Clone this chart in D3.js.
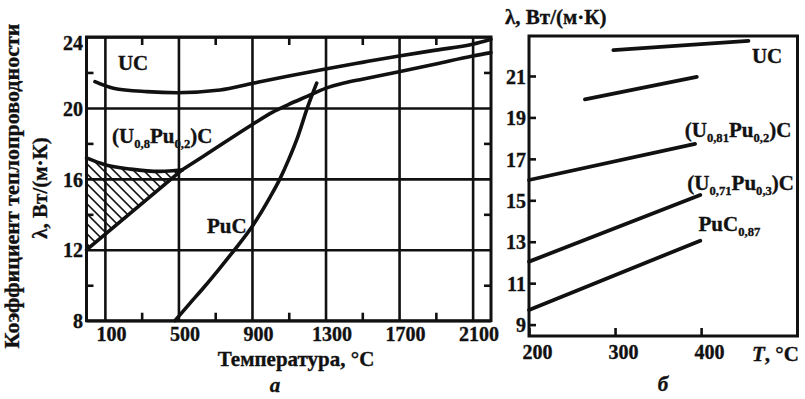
<!DOCTYPE html>
<html>
<head>
<meta charset="utf-8">
<script src="https://cdn.jsdelivr.net/npm/d3@7"></script>
<style>
  html, body { margin: 0; padding: 0; background: #fff; }
  svg { display: block; }
  text { font-family: "Liberation Serif", "Times New Roman", serif; fill: #111; stroke: #111; stroke-width: 0.35px; }
</style>
</head>
<body>
<svg id="chart" width="805" height="399"></svg>
<script>
// ---------- Panel a: thermal conductivity vs temperature (0–2200 °C) ----------
const tempTicksA = [100, 500, 900, 1300, 1700, 2100];
const tempMinorA = [300, 700, 1100, 1500, 1900];
const lambdaTicksA = [8, 12, 16, 20, 24];
const lambdaMinorA = [10, 14, 18, 22];

// UC
const ucTempA   = [46, 146, 328, 491, 727, 905, 1100, 1300, 1500, 1700, 1900, 2100, 2200];
const ucLambdaA = [21.48, 21.11, 20.92, 20.86, 21.01, 21.39, 21.8, 22.2, 22.57, 22.93, 23.26, 23.59, 23.87];

// (U0.8Pu0.2)C — upper bound of the scatter band
const upcUpperTemp   = [0, 100, 240, 400, 520];
const upcUpperLambda = [17.18, 16.8, 16.55, 16.42, 16.5];

// (U0.8Pu0.2)C — lower bound, continuing into the high-temperature curve
const upcTemp   = [0, 520, 640, 900, 1010, 1100, 1200, 1300, 1400, 1500, 1700, 1900, 2100, 2200];
const upcLambda = [12.0, 16.5, 17.3, 19.05, 19.75, 20.2, 20.65, 21.1, 21.4, 21.62, 22.04, 22.48, 22.93, 23.12];

// PuC
const pucTempA   = [481, 560, 640, 720, 805, 900, 1000, 1052, 1100, 1150, 1201, 1252];
const pucLambdaA = [8.0, 8.95, 9.9, 10.9, 12.0, 13.3, 15.0, 16.0, 17.1, 18.4, 20.0, 21.4];

// ---------- Panel б: 200–500 °C ----------
const tempTicksB = [200, 300, 400];
const lambdaTicksB = [9, 11, 13, 15, 17, 19, 21];

const ucTempB    = [298, 455];   const ucLambdaB    = [22.25, 22.69];
const uc2TempB   = [265, 395];   const uc2LambdaB   = [19.87, 20.96];
const u81TempB   = [200, 393];   const u81LambdaB   = [15.98, 17.72];
const u71TempB   = [200, 399];   const u71LambdaB   = [12.04, 15.26];
const puc87TempB = [200, 399];   const puc87LambdaB = [9.71, 13.05];

const zip = (xs, ys) => xs.map((x, i) => [x, ys[i]]);

const svg = d3.select("#chart");
svg.append("rect").attr("width", 805).attr("height", 399).attr("fill", "#fff");

const INK = "#111";
const FONT = 20;
const plain = d => String(d);

// ---------- Panel a ----------
const A = { left: 86.5, right: 491, top: 37, bottom: 320.7 };
const xA = d3.scaleLinear().domain([0, 2200]).range([A.left, A.right]);
const yA = d3.scaleLinear().domain([8, 24]).range([A.bottom, A.top]);

const gA = svg.append("g");

function styleAxis(g) {
  g.attr("font-family", null).attr("font-size", null);
  g.select(".domain").remove();
  g.selectAll(".tick line").attr("stroke", INK).attr("stroke-width", 2.6);
  g.selectAll(".tick text")
    .attr("fill", INK)
    .attr("font-size", FONT)
    .attr("font-weight", "bold");
}

// vertical grid lines + x tick labels
gA.append("g")
  .attr("transform", `translate(0,${A.bottom})`)
  .call(d3.axisBottom(xA).tickValues(tempTicksA).tickFormat(plain)
    .tickSize(-(A.bottom - A.top)).tickPadding(6))
  .call(styleAxis)
  .call(g => g.selectAll(".tick text").attr("dx", 6));

// horizontal grid lines + y tick labels
gA.append("g")
  .attr("transform", `translate(${A.left},0)`)
  .call(d3.axisLeft(yA).tickValues(lambdaTicksA).tickFormat(plain)
    .tickSize(-(A.right - A.left)).tickPadding(3.5))
  .call(styleAxis)
  .call(g => g.selectAll(".tick text").attr("dy", d => d === 24 ? "0.62em" : "0.36em"));

// minor inward ticks on all four sides
gA.append("g").attr("transform", `translate(0,${A.bottom})`)
  .call(d3.axisBottom(xA).tickValues(tempMinorA).tickSize(-8).tickFormat(""))
  .call(styleAxis);
gA.append("g").attr("transform", `translate(0,${A.top})`)
  .call(d3.axisTop(xA).tickValues(tempMinorA).tickSize(-8).tickFormat(""))
  .call(styleAxis);
gA.append("g").attr("transform", `translate(${A.left},0)`)
  .call(d3.axisLeft(yA).tickValues(lambdaMinorA).tickSize(-7).tickFormat(""))
  .call(styleAxis);
gA.append("g").attr("transform", `translate(${A.right},0)`)
  .call(d3.axisRight(yA).tickValues(lambdaMinorA).tickSize(-7).tickFormat(""))
  .call(styleAxis);

// frame
gA.append("rect")
  .attr("x", A.left).attr("y", A.top)
  .attr("width", A.right - A.left).attr("height", A.bottom - A.top)
  .attr("fill", "none").attr("stroke", INK).attr("stroke-width", 3);

const lineA = d3.line().x(d => xA(d[0])).y(d => yA(d[1])).curve(d3.curveMonotoneX);
const lineLinA = d3.line().x(d => xA(d[0])).y(d => yA(d[1]));

// hatched band between the two (U,Pu)C bounds
const upperPts = zip(upcUpperTemp, upcUpperLambda);
const lowerStart = [upcTemp[0], upcLambda[0]];
const clipD = lineA(upperPts) + `L${xA(lowerStart[0])},${yA(lowerStart[1])}Z`;
svg.append("defs").append("clipPath").attr("id", "band")
  .append("path").attr("d", clipD);

const hatch = gA.append("g").attr("clip-path", "url(#band)");
const hx0 = xA(0) - 200, hx1 = xA(600) + 20;
const hy0 = yA(18), hy1 = yA(11.5);
const hatchStarts = d3.range(hx0, hx1, 10);
hatch.selectAll("line").data(hatchStarts).join("line")
  .attr("x1", d => d).attr("y1", hy0)
  .attr("x2", d => d + (hy1 - hy0)).attr("y2", hy1)
  .attr("stroke", INK).attr("stroke-width", 1.6);

// curves
const curveStyle = sel => sel.attr("fill", "none").attr("stroke", INK)
  .attr("stroke-width", 3.6).attr("stroke-linecap", "round").attr("stroke-linejoin", "round");

gA.append("path").datum(zip(ucTempA, ucLambdaA)).attr("d", lineA).call(curveStyle);
gA.append("path").datum(upperPts).attr("d", lineA).call(curveStyle);
// straight lower bound up to the junction, then the smooth curve
const upcPts = zip(upcTemp, upcLambda);
gA.append("path").datum(upcPts.slice(0, 2)).attr("d", lineLinA).call(curveStyle);
gA.append("path").datum(upcPts.slice(1)).attr("d", lineA).call(curveStyle);
gA.append("path").datum(zip(pucTempA, pucLambdaA)).attr("d", lineA).call(curveStyle);

// compound formula label with subscripts
function formula(g, x, y, parts, size, weight) {
  const t = g.append("text").attr("x", x).attr("y", y)
    .attr("font-size", size).attr("font-weight", weight || "bold");
  let shifted = false;
  parts.forEach(p => {
    const sub = typeof p !== "string";
    const s = t.append("tspan").text(sub ? p.sub : p);
    if (sub) {
      s.attr("font-size", size * 0.6).attr("dy", shifted ? 0 : size * 0.22);
      shifted = true;
    } else {
      s.attr("dy", shifted ? -size * 0.22 : 0);
      shifted = false;
    }
  });
  return t;
}

formula(gA, xA(171), yA(22.14), ["UC"], 21, "bold");
formula(gA, xA(139), yA(18.02), ["(U", { sub: "0,8" }, "Pu", { sub: "0,2" }, ")C"], 21, "bold");
formula(gA, xA(655), yA(12.95), ["PuC"], 21, "bold");

// axis titles of panel a
svg.append("text")
  .attr("transform", "translate(19,186) rotate(-90)")
  .attr("text-anchor", "middle").attr("font-size", 22).attr("font-weight", "bold")
  .text("Коэффициент теплопроводности");
svg.append("text")
  .attr("transform", "translate(47,188) rotate(-90)")
  .attr("text-anchor", "middle").attr("font-size", 21).attr("font-weight", "bold")
  .text("λ, Вт/(м·К)");
svg.append("text")
  .attr("x", 296).attr("y", 366)
  .attr("text-anchor", "middle").attr("font-size", 21).attr("font-weight", "bold")
  .text("Температура, °С");
svg.append("text")
  .attr("x", 275).attr("y", 392)
  .attr("text-anchor", "middle").attr("font-size", 21).attr("font-weight", "bold").attr("font-style", "italic")
  .text("а");

// ---------- Panel б ----------
const B = { left: 529, right: 797.5, top: 36, bottom: 336 };
const xB = d3.scaleLinear().domain([200, 512]).range([B.left, B.right]);
const yB = d3.scaleLinear().domain([8.45, 22.93]).range([B.bottom, B.top]);
const gB = svg.append("g");

gB.append("g").attr("transform", `translate(0,${B.bottom})`)
  .call(d3.axisBottom(xB).tickValues(tempTicksB).tickFormat(plain).tickSize(-8).tickPadding(9))
  .call(styleAxis)
  .call(g => g.selectAll(".tick text").attr("dx", 8));

gB.append("g").attr("transform", `translate(${B.left},0)`)
  .call(d3.axisLeft(yB).tickValues(lambdaTicksB).tickFormat(plain).tickSize(-7).tickPadding(3))
  .call(styleAxis)
  .call(g => g.selectAll(".tick text").attr("dy", "0.36em"));

gB.append("rect")
  .attr("x", B.left).attr("y", B.top)
  .attr("width", B.right - B.left).attr("height", B.bottom - B.top)
  .attr("fill", "none").attr("stroke", INK).attr("stroke-width", 3);

const lineB = d3.line().x(d => xB(d[0])).y(d => yB(d[1]));
const seriesB = [
  zip(ucTempB, ucLambdaB),
  zip(uc2TempB, uc2LambdaB),
  zip(u81TempB, u81LambdaB),
  zip(u71TempB, u71LambdaB),
  zip(puc87TempB, puc87LambdaB)
];
gB.selectAll("path.series").data(seriesB).join("path")
  .attr("class", "series").attr("d", lineB).call(curveStyle).attr("stroke-width", 3.8);

formula(gB, xB(459), yB(21.63), ["UC"], 21, "bold");
formula(gB, xB(381), yB(18.05), ["(U", { sub: "0,81" }, "Pu", { sub: "0,2" }, ")C"], 21, "bold");
formula(gB, xB(384), yB(15.5), ["(U", { sub: "0,71" }, "Pu", { sub: "0,3" }, ")C"], 21, "bold");
formula(gB, xB(397), yB(13.52), ["PuC", { sub: "0,87" }], 21, "bold");

// axis titles of panel б
svg.append("text")
  .attr("x", 505).attr("y", 24)
  .attr("font-size", 21).attr("font-weight", "bold")
  .text("λ, Вт/(м·К)");
const tt = svg.append("text").attr("x", 752).attr("y", 361)
  .attr("font-size", 21).attr("font-weight", "bold");
tt.append("tspan").attr("font-style", "italic").text("T");
tt.append("tspan").text(", °С");
svg.append("text")
  .attr("x", 663).attr("y", 391)
  .attr("text-anchor", "middle").attr("font-size", 21).attr("font-weight", "bold").attr("font-style", "italic")
  .text("б");
</script>
</body>
</html>
